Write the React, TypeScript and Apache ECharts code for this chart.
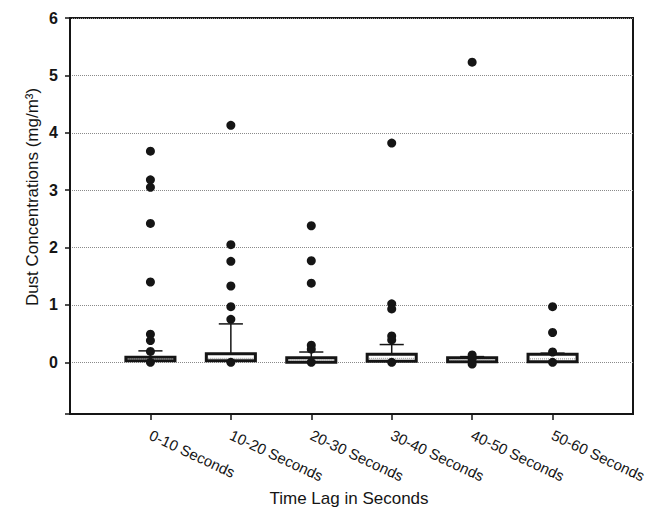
import React, { useEffect, useRef } from "react";
import * as echarts from "echarts";

const categories = [
  "0-10 Seconds",
  "10-20 Seconds",
  "20-30 Seconds",
  "30-40 Seconds",
  "40-50 Seconds",
  "50-60 Seconds",
];
const axisCategories = ["", ...categories, ""];

// box statistics (mg/m3)
const whiskerLow = [0.0, 0.0, 0.0, 0.0, 0.0, 0.0];
const boxLow = [0.03, 0.03, 0.0, 0.02, 0.01, 0.01];
const boxMedian = [0.06, 0.07, 0.04, 0.07, 0.04, 0.06];
const boxHigh = [0.09, 0.15, 0.08, 0.14, 0.08, 0.14];
const whiskerHigh = [0.2, 0.67, 0.18, 0.31, 0.1, 0.16];

// outliers per time lag
const outliers0_10 = [3.68, 3.18, 3.05, 2.42, 1.4, 0.49, 0.38, 0.19, 0.0];
const outliers10_20 = [4.13, 2.05, 1.76, 1.33, 0.97, 0.75, 0.0];
const outliers20_30 = [2.38, 1.77, 1.38, 0.3, 0.23, 0.0];
const outliers30_40 = [3.82, 1.02, 0.93, 0.46, 0.39, 0.0];
const outliers40_50 = [5.23, 0.13, 0.06, -0.03];
const outliers50_60 = [0.97, 0.52, 0.18, 0.0];
const outlierGroups = [
  outliers0_10,
  outliers10_20,
  outliers20_30,
  outliers30_40,
  outliers40_50,
  outliers50_60,
];

const yTitle = "Dust Concentrations (mg/m\u00B3)";
const xTitle = "Time Lag in Seconds";

const INK = "#151515";
const FONT = "'Liberation Sans', Arial, Helvetica, sans-serif";

export default function App() {
  const ref = useRef<HTMLDivElement>(null);

  useEffect(() => {
    if (!ref.current) return;
    const chart = echarts.init(ref.current, undefined, { renderer: "svg" });

    const boxData = categories.map((_, i) => [
      i + 1,
      whiskerLow[i],
      boxLow[i],
      boxMedian[i],
      boxHigh[i],
      whiskerHigh[i],
    ]);
    const scatterData: number[][] = [];
    outlierGroups.forEach((arr, i) => arr.forEach((v) => scatterData.push([i + 1, v])));

    const renderItem = (params: any, api: any) => {
      const x = api.value(0);
      const low = api.value(1);
      const q1 = api.value(2);
      const med = api.value(3);
      const q3 = api.value(4);
      const high = api.value(5);
      const unit = api.size([1, 0])[0];
      const halfBox = unit * 0.305;
      const halfCap = unit * 0.15;
      const pHigh = api.coord([x, high]);
      const pQ3 = api.coord([x, q3]);
      const pQ1 = api.coord([x, q1]);
      const pMed = api.coord([x, med]);
      const pLow = api.coord([x, low]);
      const cx = pQ3[0];
      const children: any[] = [];
      if (pQ3[1] - pHigh[1] > 1) {
        children.push({
          type: "line",
          shape: { x1: cx, y1: pQ3[1], x2: cx, y2: pHigh[1] },
          style: { stroke: INK, lineWidth: 1.5 },
        });
        children.push({
          type: "line",
          shape: { x1: cx - halfCap, y1: pHigh[1], x2: cx + halfCap, y2: pHigh[1] },
          style: { stroke: INK, lineWidth: 1.5 },
        });
      }
      if (pLow[1] - pQ1[1] > 3) {
        children.push({
          type: "line",
          shape: { x1: cx, y1: pQ1[1], x2: cx, y2: pLow[1] },
          style: { stroke: INK, lineWidth: 1.5 },
        });
        children.push({
          type: "line",
          shape: { x1: cx - halfCap, y1: pLow[1], x2: cx + halfCap, y2: pLow[1] },
          style: { stroke: INK, lineWidth: 1.5 },
        });
      }
      const h = Math.max(pQ1[1] - pQ3[1], 3);
      children.push({
        type: "rect",
        shape: { x: cx - halfBox, y: pQ3[1], width: halfBox * 2, height: h },
        style: { fill: "#fff", stroke: INK, lineWidth: 3 },
      });
      children.push({
        type: "line",
        shape: { x1: cx - halfBox + 2, y1: pMed[1], x2: cx + halfBox - 2, y2: pMed[1] },
        style: { stroke: "#8a8a8a", lineWidth: 1, lineDash: [1, 1] },
      });
      return { type: "group", children };
    };

    chart.setOption({
      animation: false,
      backgroundColor: "#fff",
      grid: {
        left: 70,
        right: 28,
        top: 18,
        bottom: 106,
        show: true,
        borderColor: INK,
        borderWidth: 2,
      },
      xAxis: {
        type: "category",
        data: axisCategories,
        boundaryGap: false,
        axisLine: { onZero: false, lineStyle: { color: INK, width: 2 } },
        axisTick: {
          length: 6,
          interval: (idx: number) => idx > 0 && idx < axisCategories.length - 1,
          lineStyle: { color: INK, width: 1.5 },
        },
        axisLabel: {
          interval: (idx: number) => idx > 0 && idx < axisCategories.length - 1,
          rotate: -25,
          margin: 20,
          fontSize: 15,
          color: INK,
          fontFamily: FONT,
        },
        splitLine: { show: false },
      },
      yAxis: {
        type: "value",
        min: -0.9,
        max: 6,
        splitNumber: 6,
        axisLine: { show: true, lineStyle: { color: INK, width: 2 } },
        axisTick: { show: true, length: 5, lineStyle: { color: INK, width: 1.5 } },
        axisLabel: {
          margin: 12,
          fontSize: 16,
          fontWeight: "bold",
          color: INK,
          fontFamily: FONT,
          formatter: (v: number) => (v < -0.01 ? "" : String(Math.round(v))),
        },
        splitLine: {
          show: true,
          lineStyle: { color: "#8a8a8a", width: 1, type: [1, 1] },
        },
      },
      graphic: [
        {
          type: "text",
          x: 32,
          y: 197,
          rotation: Math.PI / 2,
          style: {
            text: yTitle,
            fontSize: 17,
            fontFamily: FONT,
            fill: INK,
            align: "center",
            verticalAlign: "middle",
          },
        },
        {
          type: "text",
          x: 349,
          y: 498,
          style: {
            text: xTitle,
            fontSize: 17,
            fontFamily: FONT,
            fill: INK,
            align: "center",
            verticalAlign: "middle",
          },
        },
      ],
      series: [
        {
          type: "custom",
          renderItem,
          data: boxData,
          encode: { x: 0, y: [1, 2, 3, 4, 5] },
          z: 2,
        },
        {
          type: "scatter",
          data: scatterData,
          symbol: "circle",
          symbolSize: 9,
          itemStyle: { color: INK, opacity: 1 },
          z: 3,
        },
      ],
    });

    return () => chart.dispose();
  }, []);

  return (
    <div
      ref={ref}
      style={{ position: "fixed", left: 0, top: 0, width: 661, height: 520 }}
    />
  );
}
